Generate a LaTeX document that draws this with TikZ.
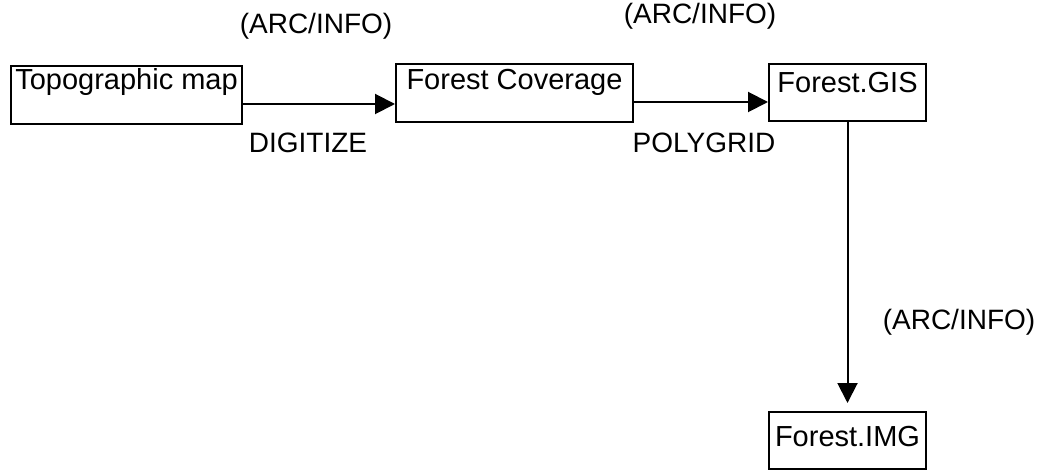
\documentclass[tikz,border=0pt]{standalone}
\usepackage{fontspec}
\setmainfont{Liberation Sans}
\usetikzlibrary{arrows.meta}

\tikzset{
  procbox/.style={draw, line width=1pt, anchor=north west, inner xsep=0pt,
    inner ysep=0pt, font=\fontsize{14.5}{17}\selectfont},
  proclabel/.style={font=\fontsize{14}{17}\selectfont},
  flow/.style={-{Triangle[length=10pt,width=10pt]}, line width=1pt}
}

\begin{document}
\begin{tikzpicture}[x=0.5pt,y=-0.5pt]
\useasboundingbox (0,0) rectangle (1039,470);

% Data boxes
\node[procbox, minimum width=115.5pt, text height=12pt, text depth=17pt] (topo) at (10,65) {Topographic map};
\node[procbox, minimum width=118.5pt, text height=13pt, text depth=16pt] (cover) at (395,63) {Forest Coverage};
\node[procbox, minimum width=78.5pt, text height=14.5pt, text depth=14pt] (gis) at (768,63) {Forest.GIS};
\node[procbox, minimum width=78.5pt, text height=17pt, text depth=11.5pt] (img) at (768,411) {Forest.IMG};

% Conversion steps
\draw[flow] ([yshift=-4.5pt]topo.east) -- ([yshift=-4.5pt]topo.east -| cover.west);
\draw[flow] ([yshift=-4.5pt]cover.east) -- ([yshift=-4.5pt]cover.east -| gis.west);
\draw[flow, shorten >=4pt] (gis.south) -- (gis.south |- img.north);

% Software and command labels
\node[proclabel] (arcA) at (316,26) {(ARC/INFO)};
\node[proclabel] (arcB) at (700,16) {(ARC/INFO)};
\node[proclabel] (arcC) at (959,322) {(ARC/INFO)};
\node[proclabel] (digit) at (308,143) {DIGITIZE};
\node[proclabel] (poly) at (704,143) {POLYGRID};

\end{tikzpicture}
\end{document}
